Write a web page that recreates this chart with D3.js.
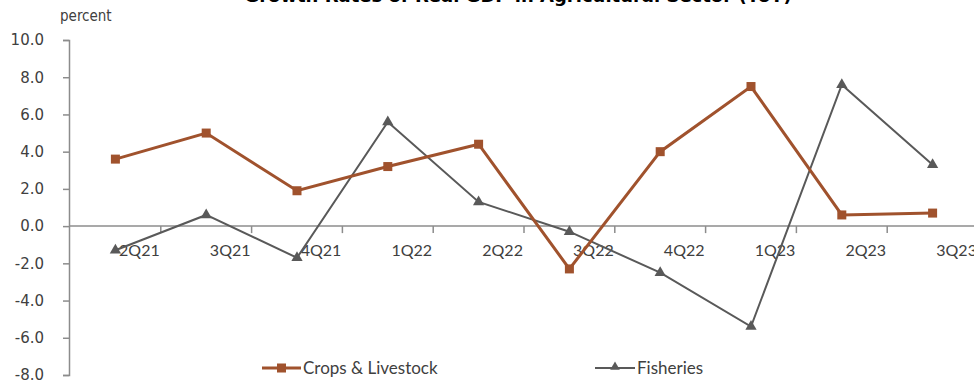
<!DOCTYPE html>
<html>
<head>
<meta charset="utf-8">
<script src="https://cdn.jsdelivr.net/npm/d3@7"></script>
<style>
  body { margin: 0; background: #fff; }
  svg { display: block; }
</style>
</head>
<body>
<script>
const width = 974;
const height = 385;

const quarters = ["2Q21", "3Q21", "4Q21", "1Q22", "2Q22", "3Q22", "4Q22", "1Q23", "2Q23", "3Q23"];
const crops = [3.6, 5.0, 1.9, 3.2, 4.4, -2.3, 4.0, 7.5, 0.6, 0.7];
const fisheries = [-1.3, 0.6, -1.7, 5.6, 1.3, -0.3, -2.5, -5.4, 7.6, 3.3];
const yTicks = [10, 8, 6, 4, 2, 0, -2, -4, -6, -8];

const colorCrops = "#a0522d";
const colorFish = "#595959";

const x = d3.scaleBand().domain(quarters).range([70, 978]);
const y = d3.scaleLinear().domain([-8, 10]).range([375, 40]);

const svg = d3.select("body").append("svg")
    .attr("width", width)
    .attr("height", height);

// title, cut by the top edge
svg.append("text")
    .attr("x", 518)
    .attr("y", 2)
    .attr("text-anchor", "middle")
    .attr("font-family", "DejaVu Sans")
    .attr("font-weight", "bold")
    .attr("font-size", 18)
    .attr("fill", "#000")
    .text("Growth Rates of Real GDP in Agricultural Sector (YoY)");

svg.append("text")
    .attr("x", 60)
    .attr("y", 21)
    .attr("font-family", "DejaVu Sans Condensed, DejaVu Sans")
    .attr("font-size", 15)
    .attr("fill", "#404040")
    .text("percent");

// y axis
const yAxis = svg.append("g")
    .attr("transform", "translate(69,0)")
    .call(d3.axisLeft(y).tickValues(yTicks).tickFormat(d => d.toFixed(1)).tickSize(6).tickPadding(19));
yAxis.select(".domain").attr("stroke", "#8c8c8c").attr("stroke-width", 1.5);
yAxis.selectAll(".tick line").attr("stroke", "#8c8c8c").attr("stroke-width", 1.5);
yAxis.selectAll(".tick text")
    .attr("font-family", "DejaVu Sans")
    .attr("font-size", 15)
    .attr("fill", "#404040");

// zero line with category ticks
const xAxis = svg.append("g")
    .attr("transform", `translate(0,${y(0)})`);
xAxis.append("line")
    .attr("x1", 69).attr("x2", width)
    .attr("stroke", "#8c8c8c").attr("stroke-width", 1.5);
xAxis.selectAll(".xt")
  .data(quarters.slice(1))
  .join("line")
    .attr("x1", d => x(d)).attr("x2", d => x(d))
    .attr("y1", 0).attr("y2", 7)
    .attr("stroke", "#8c8c8c").attr("stroke-width", 1.5);
xAxis.selectAll("text")
  .data(quarters)
  .join("text")
    .attr("x", d => x(d) + x.bandwidth() / 2 + 24)
    .attr("y", 30)
    .attr("text-anchor", "middle")
    .attr("font-family", "Lato")
    .attr("font-size", 16)
    .attr("fill", "#404040")
    .text(d => d);

const line = d3.line()
    .x((d, i) => x(quarters[i]) + x.bandwidth() / 2)
    .y(d => y(d));

// fisheries
svg.append("path")
    .datum(fisheries)
    .attr("fill", "none")
    .attr("stroke", colorFish)
    .attr("stroke-width", 2)
    .attr("d", line);
svg.append("g").selectAll("path")
  .data(fisheries)
  .join("path")
    .attr("d", d3.symbol(d3.symbolTriangle, 55))
    .attr("transform", (d, i) => `translate(${x(quarters[i]) + x.bandwidth() / 2},${y(d)})`)
    .attr("fill", colorFish);

// crops & livestock
svg.append("path")
    .datum(crops)
    .attr("fill", "none")
    .attr("stroke", colorCrops)
    .attr("stroke-width", 3)
    .attr("d", line);
svg.append("g").selectAll("rect")
  .data(crops)
  .join("rect")
    .attr("x", (d, i) => x(quarters[i]) + x.bandwidth() / 2 - 4.5)
    .attr("y", d => y(d) - 4.5)
    .attr("width", 9)
    .attr("height", 9)
    .attr("fill", colorCrops);

// legend
const legend = svg.append("g").attr("font-family", "Lato").attr("font-size", 17).attr("fill", "#404040");
const lg1 = legend.append("g").attr("transform", "translate(262,368)");
lg1.append("line").attr("x1", 0).attr("x2", 39).attr("stroke", colorCrops).attr("stroke-width", 3);
lg1.append("rect").attr("x", 15).attr("y", -4.5).attr("width", 9).attr("height", 9).attr("fill", colorCrops);
lg1.append("text").attr("x", 41).attr("y", 6).text("Crops & Livestock");

const lg2 = legend.append("g").attr("transform", "translate(595,368)");
lg2.append("line").attr("x1", 0).attr("x2", 40).attr("stroke", colorFish).attr("stroke-width", 2);
lg2.append("path").attr("d", d3.symbol(d3.symbolTriangle, 40)).attr("transform", "translate(20,-1)").attr("fill", colorFish);
lg2.append("text").attr("x", 42).attr("y", 6).text("Fisheries");
</script>
</body>
</html>
